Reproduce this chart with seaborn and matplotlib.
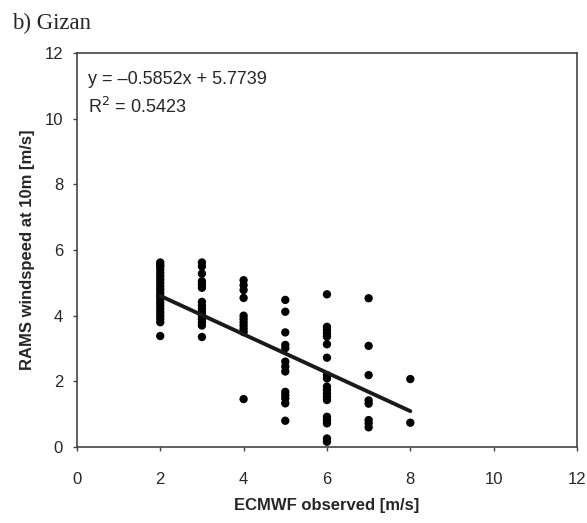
import pandas as pd
import numpy as np
import matplotlib
matplotlib.use('Agg')
import matplotlib.pyplot as plt
import seaborn as sns

# observed (ECMWF) vs modelled (RAMS) wind speed
obs_2 = [5.62, 5.55, 5.5, 5.4, 5.3, 5.2, 5.1, 5.0, 4.9, 4.8, 4.7, 4.6, 4.5,
         4.4, 4.3, 4.2, 4.1, 4.0, 3.9, 3.8, 3.38]
obs_3 = [5.62, 5.5, 5.28, 5.05, 4.95, 4.85, 4.42, 4.3, 4.2, 4.1, 4.0, 3.9,
         3.8, 3.7, 3.35]
obs_4 = [5.08, 4.93, 4.78, 4.54, 4.0, 3.9, 3.8, 3.7, 3.6, 3.5, 1.46]
obs_5 = [4.48, 4.12, 3.49, 3.11, 3.01, 2.6, 2.45, 2.3, 1.68, 1.58, 1.48,
         1.33, 0.8]
obs_6 = [4.65, 3.66, 3.56, 3.46, 3.36, 3.13, 2.72, 2.19, 2.09, 1.84, 1.74,
         1.63, 1.53, 1.43, 0.92, 0.82, 0.72, 0.26, 0.16]
obs_7 = [4.53, 3.08, 2.19, 1.42, 1.32, 0.82, 0.72, 0.6]
obs_8 = [2.07, 0.74]

columns = {2: obs_2, 3: obs_3, 4: obs_4, 5: obs_5, 6: obs_6, 7: obs_7, 8: obs_8}

# regression reported in the figure
slope = -0.5852
intercept = 5.7739
r_squared = 0.5423

rows = []
for x, vals in columns.items():
    for v in vals:
        rows.append({'observed': x, 'rams': v})
df = pd.DataFrame(rows)

sns.set_style('white')
plt.rcParams['font.family'] = ['Liberation Sans', 'DejaVu Sans']

fig = plt.figure(figsize=(5.87, 5.23), dpi=100)
ax = fig.add_axes([0.131, 0.1453, 0.852, 0.7534])

sns.scatterplot(data=df, x='observed', y='rams', color='black', s=36,
                edgecolor='none', ax=ax, zorder=3)

fit_x = np.array([df['observed'].min(), df['observed'].max()])
ax.plot(fit_x, slope * fit_x + intercept, color='#1a1a1a', lw=2.8, zorder=4)

ax.set_xlim(0, 12)
ax.set_ylim(0, 12)
ax.set_xticks(range(0, 13, 2))
ax.set_yticks(range(0, 13, 2))
ax.tick_params(axis='both', direction='out', length=3, width=1,
               color='#444444', labelsize=12, left=True, bottom=True)
ax.tick_params(axis='x', pad=15)
ax.tick_params(axis='y', pad=7)
for sp in ax.spines.values():
    sp.set_color('#444444')
    sp.set_linewidth(1.2)

ax.set_xlabel('ECMWF observed [m/s]', fontsize=12, fontweight='bold', labelpad=8)
ax.set_ylabel('RAMS windspeed at 10m [m/s]', fontsize=12, fontweight='bold', labelpad=7)

ax.text(0.022, 0.932, f'y = \u2013{abs(slope):.4f}x + {intercept:.4f}',
        transform=ax.transAxes, fontsize=13, va='center', ha='left')
ax.text(0.022, 0.864, f'R$^2$ = {r_squared:.4f}',
        transform=ax.transAxes, fontsize=13, va='center', ha='left')

fig.text(0.02, 0.956, 'b) Gizan', family=['Liberation Serif', 'DejaVu Serif'],
         fontsize=16.5, va='center', ha='left')

fig.savefig('out.png', dpi=100)
